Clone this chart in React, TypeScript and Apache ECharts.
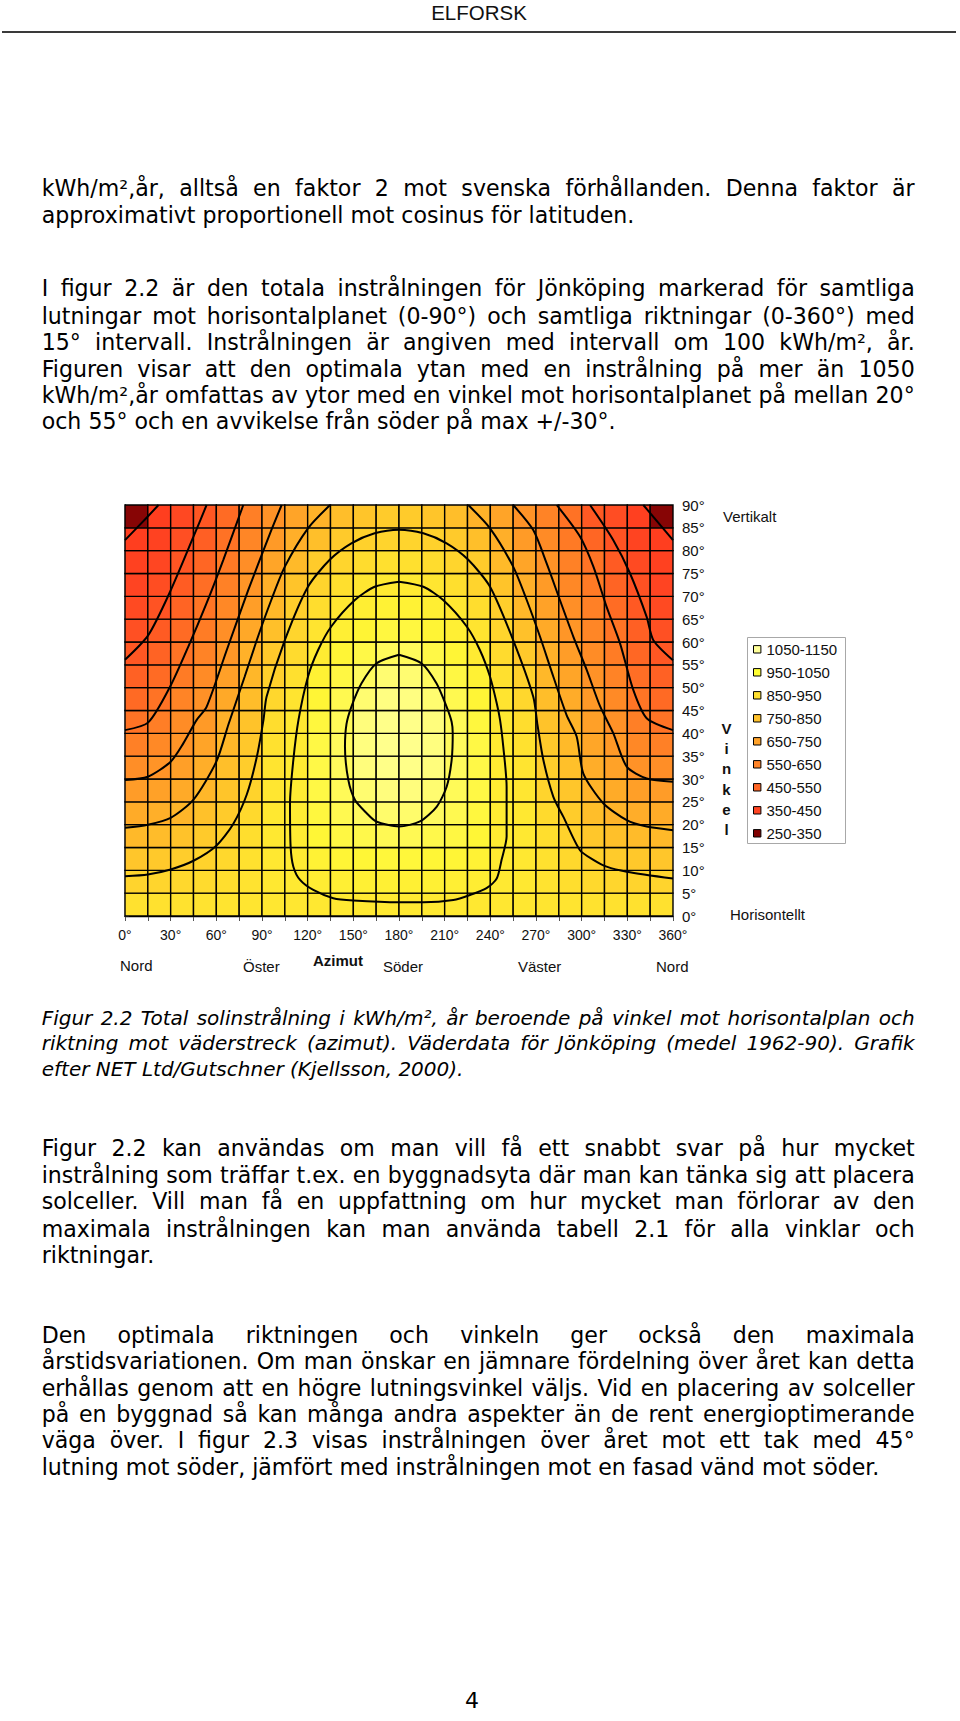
import React, { useEffect, useLayoutEffect, useRef } from 'react';
import * as echarts from 'echarts';

// ---------- chart data ----------
const azimuthCenters = [7.5, 22.5, 37.5, 52.5, 67.5, 82.5, 97.5, 112.5, 127.5, 142.5, 157.5, 172.5, 187.5, 202.5, 217.5, 232.5, 247.5, 262.5, 277.5, 292.5, 307.5, 322.5, 337.5, 352.5];
const tiltCenters = [2.5, 7.5, 12.5, 17.5, 22.5, 27.5, 32.5, 37.5, 42.5, 47.5, 52.5, 57.5, 62.5, 67.5, 72.5, 77.5, 82.5, 87.5];

// kWh/m², år — one row per tilt band (bottom to top), one value per 15° azimuth band
const irradiance: number[][] = [
  [911, 913, 916, 920, 924, 930, 937, 939, 942, 945, 946, 947, 947, 946, 945, 942, 939, 937, 930, 924, 918, 914, 912, 911],
  [863, 869, 878, 889, 901, 922, 940, 946, 962, 972, 973, 976, 976, 973, 972, 962, 944, 940, 922, 901, 883, 873, 866, 863],
  [816, 825, 839, 858, 878, 912, 942, 952, 983, 996, 998, 1006, 1006, 998, 996, 983, 949, 942, 913, 879, 849, 833, 821, 816],
  [770, 780, 799, 827, 855, 899, 942, 956, 1000, 1015, 1024, 1035, 1035, 1024, 1015, 1000, 955, 942, 901, 856, 817, 793, 775, 770],
  [722, 735, 758, 795, 833, 882, 940, 958, 1011, 1030, 1048, 1062, 1062, 1048, 1030, 1011, 958, 940, 885, 835, 785, 753, 729, 722],
  [675, 691, 721, 763, 811, 862, 935, 957, 1018, 1040, 1068, 1083, 1083, 1068, 1040, 1018, 957, 935, 865, 814, 754, 723, 683, 675],
  [629, 648, 685, 732, 789, 839, 926, 955, 1020, 1044, 1081, 1095, 1095, 1081, 1044, 1020, 955, 926, 844, 794, 731, 694, 641, 629],
  [585, 612, 649, 700, 767, 821, 913, 951, 1017, 1044, 1085, 1100, 1100, 1085, 1044, 1017, 951, 913, 824, 773, 708, 665, 611, 585],
  [544, 577, 623, 668, 744, 802, 896, 940, 1009, 1039, 1081, 1097, 1097, 1081, 1039, 1009, 940, 896, 805, 752, 686, 639, 580, 544],
  [515, 544, 596, 640, 716, 783, 875, 926, 996, 1030, 1068, 1087, 1087, 1068, 1030, 996, 926, 875, 785, 728, 664, 616, 549, 515],
  [486, 519, 569, 618, 687, 764, 851, 909, 978, 1015, 1048, 1069, 1069, 1048, 1015, 978, 909, 853, 765, 703, 643, 594, 527, 486],
  [457, 494, 543, 595, 658, 743, 822, 890, 956, 995, 1020, 1043, 1043, 1020, 995, 956, 890, 824, 744, 678, 624, 571, 505, 457],
  [435, 469, 519, 573, 633, 712, 794, 868, 926, 970, 993, 1012, 1012, 993, 970, 926, 868, 796, 720, 654, 604, 548, 483, 435],
  [416, 445, 496, 551, 611, 682, 766, 842, 896, 939, 967, 982, 982, 967, 939, 896, 842, 768, 695, 631, 585, 522, 461, 416],
  [397, 424, 472, 527, 588, 651, 735, 807, 866, 904, 935, 951, 951, 935, 904, 866, 807, 737, 671, 609, 566, 496, 439, 397],
  [378, 403, 449, 504, 565, 628, 702, 772, 831, 868, 894, 909, 909, 894, 868, 831, 772, 704, 646, 587, 543, 469, 416, 378],
  [359, 382, 430, 481, 542, 604, 669, 736, 790, 829, 853, 866, 866, 853, 829, 790, 736, 671, 620, 565, 502, 445, 393, 359],
  [340, 361, 410, 457, 519, 581, 641, 699, 751, 786, 812, 831, 831, 812, 786, 751, 699, 645, 593, 540, 461, 425, 370, 340],
];

// contour lines [azimut°, vinkel°]
const contour350West = [[0, 82.3], [15.3, 87.6], [22, 90]];
const contour350East = [[340.5, 90], [360, 82.3]];
const contour450West = [[0, 56.1], [15.3, 61.5], [29.6, 71], [44.9, 83], [53.6, 90]];
const contour450East = [[305.5, 90], [320.8, 82.3], [331.8, 75], [342.7, 65.5], [347.1, 60.4], [360, 56]];
const contour550West = [[0, 40.7], [15.3, 42.4], [29.6, 50.2], [41.6, 59], [53.6, 68.5], [64.6, 78], [77.7, 90]];
const contour550East = [[283.6, 90], [298.9, 83.1], [307.7, 76.5], [316.4, 67.7], [325.2, 59.7], [333.9, 49.5], [342.7, 43.3], [360, 40.7]];
const contour650West = [[0, 29.8], [15, 30.5], [30, 33.8], [38.3, 37.8], [47, 42.9], [53.6, 45.8], [66.8, 58.2], [81, 71.4], [95.3, 83.8], [102.9, 90]];
const contour650East = [[255, 90], [268.2, 84.5], [277, 77.2], [285.7, 69.2], [294.5, 61.2], [303.3, 53.9], [312, 46], [320.8, 40], [329.6, 32.7], [342.7, 30.1], [360, 29.4]];
const contour750West = [[0, 19.3], [15, 20], [30, 21.5], [45, 25.5], [60, 33.8], [68, 42], [78.6, 52.4], [87.4, 61.2], [96.1, 69.2], [105, 76.5], [120.2, 84.9], [134.7, 90]];
const contour750East = [[225.5, 90], [239.8, 84.9], [255, 76.5], [263.9, 69.2], [272.6, 61.2], [281.4, 52.4], [290.1, 44], [296.7, 39.3], [301.1, 31.2], [314.2, 24.7], [329.6, 21], [342.7, 19.6], [360, 18.8]];
const contour850 = [[0, 8.7], [15, 9.1], [30, 10.2], [45, 12.1], [60, 15.4], [71, 20.1], [80, 26.6], [86.5, 34.7], [91, 43], [93, 48], [105, 60.4], [120.2, 72.1], [134.5, 78], [148.7, 81.6], [164, 83.8], [180, 84.6], [196, 83.8], [211.3, 81.6], [225.5, 78], [239.8, 72.1], [255, 60.4], [268.2, 48], [271, 41.8], [274.8, 34.2], [281.4, 26.1], [288, 21.7], [298.9, 14.4], [307.7, 12.3], [316.4, 10.8], [329.6, 9.7], [360, 8.2]];
const contour950 = [[180, 73.2], [164, 72.1], [151, 69.2], [135.5, 63.4], [126.8, 58.2], [120.2, 52.4], [114, 43], [110.6, 34.2], [108.4, 24.7], [108.8, 15.2], [110.6, 10.8], [115, 7.9], [123.7, 5.7], [136.8, 3.9], [150, 3.4], [180, 3.0], [196, 3.0], [215.7, 3.5], [226.6, 4.6], [237.5, 6.1], [244.2, 8.2], [247.4, 12.3], [250.7, 17.4], [250.7, 28.3], [248.5, 37.1], [246.4, 42.9], [244.2, 46.6], [239.8, 52.4], [233.2, 58.2], [224.5, 63.4], [209, 69.2], [196, 72.1], [180, 73.2]];
const contour1050 = [[180, 57.2], [165.1, 55.3], [155.3, 50.9], [148.7, 45.8], [145.5, 42], [144.5, 37.1], [146.7, 29.8], [151.1, 25.4], [158.8, 22.5], [165, 20.7], [180, 19.6], [193.8, 20.7], [204.7, 23.9], [211.3, 28.3], [214.6, 34.2], [215.3, 40], [214.6, 42.5], [211.3, 45.8], [204.7, 50.9], [194.9, 55.3], [180, 57.2]];

const contours = [contour350West, contour350East, contour450West, contour450East, contour550West, contour550East, contour650West, contour650East, contour750West, contour750East, contour850, contour950, contour1050];

const legendLabels = ['1050-1150', '950-1050', '850-950', '750-850', '650-750', '550-650', '450-550', '350-450', '250-350'];
const legendColors = ['#ffff99', '#ffff33', '#ffe031', '#ffc22c', '#ffa22a', '#ff8428', '#ff6626', '#ff4422', '#800000'];

const colorStops: [number, string][] = [
  [250, '#6a0000'], [349.9, '#8a0505'], [350, '#ff3c1e'], [400, '#ff4522'], [500, '#ff6524'],
  [600, '#ff8526'], [700, '#ffa428'], [800, '#ffc22a'], [900, '#ffde2e'], [1000, '#fff636'],
  [1100, '#ffff8c'], [1150, '#ffffa8'],
];

const azimuthStep = 15;
const tiltStep = 5;

function hexToRgb(h: string) {
  return [parseInt(h.slice(1, 3), 16), parseInt(h.slice(3, 5), 16), parseInt(h.slice(5, 7), 16)];
}
function colorFor(v: number): string {
  for (let i = 0; i < colorStops.length - 1; i++) {
    const [v0, c0] = colorStops[i];
    const [v1, c1] = colorStops[i + 1];
    if (v <= v1) {
      const t = Math.max(0, Math.min(1, (v - v0) / (v1 - v0)));
      const a = hexToRgb(c0), b = hexToRgb(c1);
      const m = a.map((x, k) => Math.round(x + (b[k] - x) * t));
      return `rgb(${m[0]},${m[1]},${m[2]})`;
    }
  }
  return colorStops[colorStops.length - 1][1];
}

const LABEL_FONT = '"Liberation Sans", Arial, sans-serif';

function Chart() {
  const ref = useRef<HTMLDivElement>(null);
  useEffect(() => {
    if (!ref.current) return;
    const chart = echarts.init(ref.current, undefined, { renderer: 'svg' });
    const cells: number[][] = [];
    tiltCenters.forEach((t, i) => azimuthCenters.forEach((a, j) => cells.push([a, t, irradiance[i][j]])));

    const graphics: any[] = [];
    const txt = (text: string, x: number, y: number, opts: any = {}) =>
      graphics.push({
        type: 'text', x, y, silent: true,
        style: { text, fill: '#111', font: `${opts.bold ? 'bold ' : ''}${opts.size || 15}px ${LABEL_FONT}`, textAlign: opts.align || 'left', textVerticalAlign: 'middle' },
      });
    txt('Nord', 120, 525);
    txt('Öster', 243, 526.5);
    txt('Azimut', 313, 520, { bold: true });
    txt('Söder', 383, 526.5);
    txt('Väster', 518, 526.5);
    txt('Nord', 656, 526.5);
    txt('Vertikalt', 723, 76.7);
    txt('Horisontellt', 730, 474.7);
    ['V', 'i', 'n', 'k', 'e', 'l'].forEach((ch, i) => txt(ch, 726.5, 288.3 + i * 20.3, { bold: true, align: 'center' }));
    graphics.push({ type: 'rect', shape: { x: 747.5, y: 197.5, width: 98, height: 206 }, style: { fill: '#fff', stroke: '#a8a8a8', lineWidth: 1 }, silent: true });
    legendLabels.forEach((lab, i) => {
      const cy = 209.3 + i * 23;
      graphics.push({ type: 'rect', shape: { x: 753.5, y: cy - 3.7, width: 7.4, height: 7.4 }, style: { fill: legendColors[i], stroke: '#000', lineWidth: 1 }, silent: true });
      txt(lab, 766.5, cy + 0.5);
    });

    chart.setOption({
      animation: false,
      grid: { left: 125, top: 65, width: 548, height: 411, containLabel: false },
      xAxis: {
        type: 'value', min: 0, max: 360, interval: 15, position: 'bottom',
        axisLine: { show: true, lineStyle: { color: '#000', width: 1.3 } },
        axisTick: { show: true, length: 5, lineStyle: { color: '#555', width: 1 } },
        axisLabel: { formatter: (v: number) => (v % 30 === 0 ? `${v}°` : ''), margin: 12, fontSize: 14, color: '#111', fontFamily: LABEL_FONT },
        splitLine: { show: false },
      },
      yAxis: {
        type: 'value', min: 0, max: 90, interval: 5, position: 'right',
        axisLine: { show: true, lineStyle: { color: '#000', width: 1.3 } },
        axisTick: { show: true, length: 4, lineStyle: { color: '#555', width: 1 } },
        axisLabel: { formatter: (v: number) => `${v}°`, margin: 9, fontSize: 15, color: '#111', fontFamily: LABEL_FONT },
        splitLine: { show: false },
      },
      series: [
        {
          type: 'custom',
          z: 1,
          silent: true,
          dimensions: ['az', 'tilt', 'value'],
          encode: { x: 'az', y: 'tilt' },
          data: cells,
          renderItem: (_p: any, api: any) => {
            const a = api.value(0), t = api.value(1), v = api.value(2);
            const p0 = api.coord([a - azimuthStep / 2, t + tiltStep / 2]);
            const p1 = api.coord([a + azimuthStep / 2, t - tiltStep / 2]);
            return {
              type: 'rect',
              shape: { x: p0[0], y: p0[1], width: p1[0] - p0[0], height: p1[1] - p0[1] },
              style: { fill: colorFor(v), stroke: '#000', lineWidth: 1.4 },
            };
          },
        },
        ...contours.map((c) => ({
          type: 'line', data: c, z: 5, silent: true, symbol: 'none', showSymbol: false, smooth: 0.25,
          lineStyle: { color: '#000', width: 2 },
        })),
      ],
      graphic: graphics,
    });
    return () => chart.dispose();
  }, []);
  return <div ref={ref} style={{ position: 'absolute', left: 0, top: 440, width: 960, height: 540 }} />;
}

const BODY_FONT = '"DejaVu Sans", Verdana, sans-serif';
const TEXT_LEFT = 41.7;
const TEXT_WIDTH = 873;

function Line({ text, baseline, justify, italic, size }: { text: string; baseline: number; justify?: boolean; italic?: boolean; size: number }) {
  return (
    <div
      style={{
        position: 'absolute', left: TEXT_LEFT, width: TEXT_WIDTH + 40, top: baseline - 0.846 * size, height: size, lineHeight: `${size}px`,
        fontSize: size, fontFamily: BODY_FONT, fontStyle: italic ? 'italic' : 'normal', color: '#000',
        textAlign: 'left', whiteSpace: 'nowrap',
      }}
    >
      <span data-just={justify ? '1' : undefined}>{text}</span>
    </div>
  );
}

export default function App() {
  useLayoutEffect(() => {
    const apply = () => {
      document.querySelectorAll<HTMLSpanElement>('span[data-just]').forEach((sp) => {
        sp.style.wordSpacing = '0px';
        const w = sp.getBoundingClientRect().width;
        const n = (sp.textContent || '').split(' ').length - 1;
        if (n > 0) sp.style.wordSpacing = `${(TEXT_WIDTH - w) / n}px`;
      });
    };
    apply();
    const f = (document as any).fonts;
    if (f && f.ready) f.ready.then(apply);
  }, []);

  const BODY = 22.1;
  const CAP = 20;
  const p1 = ['kWh/m²,år, alltså en faktor 2 mot svenska förhållanden. Denna faktor är', 'approximativt proportionell mot cosinus för latituden.'];
  const p1b = [195.2, 222.6];
  const p2 = [
    'I figur 2.2 är den totala instrålningen för Jönköping markerad för samtliga',
    'lutningar mot horisontalplanet (0-90°) och samtliga riktningar (0-360°) med',
    '15° intervall. Instrålningen är angiven med intervall om 100 kWh/m², år.',
    'Figuren visar att den optimala ytan med en instrålning på mer än 1050',
    'kWh/m²,år omfattas av ytor med en vinkel mot horisontalplanet på mellan 20°',
    'och 55° och en avvikelse från söder på max +/-30°.',
  ];
  const p2b = [296.1, 323.2, 349.9, 376.3, 402.6, 428.9];
  const cap = [
    'Figur 2.2 Total solinstrålning i kWh/m², år beroende på vinkel mot horisontalplan och',
    'riktning mot väderstreck (azimut). Väderdata för Jönköping (medel 1962-90). Grafik',
    'efter NET Ltd/Gutschner (Kjellsson, 2000).',
  ];
  const capb = [1025, 1050.3, 1075.5];
  const p3 = [
    'Figur 2.2 kan användas om man vill få ett snabbt svar på hur mycket',
    'instrålning som träffar t.ex. en byggnadsyta där man kan tänka sig att placera',
    'solceller. Vill man få en uppfattning om hur mycket man förlorar av den',
    'maximala instrålningen kan man använda tabell 2.1 för alla vinklar och',
    'riktningar.',
  ];
  const p3b = [1155.2, 1182.6, 1209, 1236.2, 1262.7];
  const p4 = [
    'Den optimala riktningen och vinkeln ger också den maximala',
    'årstidsvariationen. Om man önskar en jämnare fördelning över året kan detta',
    'erhållas genom att en högre lutningsvinkel väljs. Vid en placering av solceller',
    'på en byggnad så kan många andra aspekter än de rent energioptimerande',
    'väga över. I figur 2.3 visas instrålningen över året mot ett tak med 45°',
    'lutning mot söder, jämfört med instrålningen mot en fasad vänd mot söder.',
  ];
  const p4b = [1342.8, 1369.1, 1395.4, 1421.7, 1448.1, 1474.4];

  const block = (lines: string[], bases: number[], size: number, italic = false) =>
    lines.map((t, i) => <Line key={t} text={t} baseline={bases[i]} justify={i < lines.length - 1} italic={italic} size={size} />);

  return (
    <div style={{ position: 'absolute', left: 0, top: 0, width: 960, height: 1721, background: '#fff', overflow: 'hidden' }}>
      <div style={{ position: 'absolute', left: 0, width: 960, top: 3, textAlign: 'center', fontFamily: LABEL_FONT, fontSize: 20.5, lineHeight: '20px', color: '#111' }}>
        <span style={{ position: 'relative', left: -1 }}>ELFORSK</span>
      </div>
      <div style={{ position: 'absolute', left: 2, top: 31, width: 954, height: 2, background: '#3a3a3a' }} />
      {block(p1, p1b, BODY)}
      {block(p2, p2b, BODY)}
      <Chart />
      {block(cap, capb, CAP, true)}
      {block(p3, p3b, BODY)}
      {block(p4, p4b, BODY)}
      <div style={{ position: 'absolute', left: 0, width: 944, top: 1690, textAlign: 'center', fontFamily: BODY_FONT, fontSize: 22, lineHeight: '22px' }}>4</div>
    </div>
  );
}
